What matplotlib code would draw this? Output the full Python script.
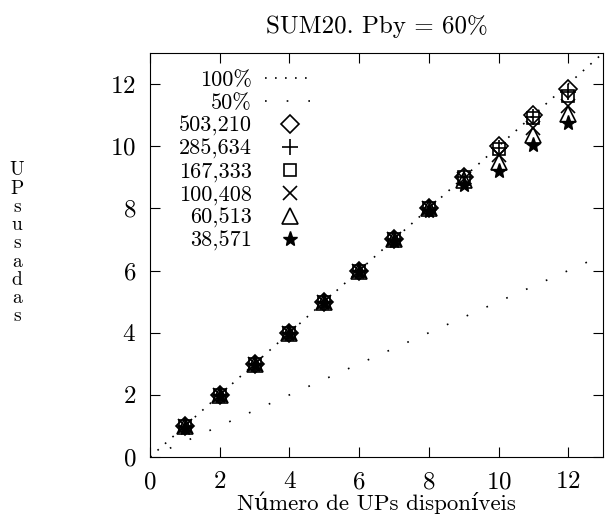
import matplotlib.pyplot as plt

plt.rcParams['font.family'] = ['cmr10', 'DejaVu Serif']
plt.rcParams['mathtext.fontset'] = 'cm'
plt.rcParams['axes.formatter.use_mathtext'] = True

# datos
ups = [1, 2, 3, 4, 5, 6, 7, 8, 9, 10, 11, 12]
s503210 = [1, 2, 3, 4, 5, 6, 7, 8, 9, 10.0, 11.0, 11.85]
s285634 = [1, 2, 3, 4, 5, 6, 7, 8, 9, 9.95, 10.95, 11.75]
s167333 = [1, 2, 3, 4, 5, 6, 7, 8, 9, 9.9, 10.9, 11.6]
s100408 = [1, 2, 3, 4, 5, 6, 7, 8, 8.95, 9.7, 10.6, 11.3]
s60513 = [1, 2, 3, 4, 5, 6, 7, 8, 8.9, 9.5, 10.35, 11.05]
s38571 = [0.95, 1.95, 2.95, 3.95, 4.95, 5.95, 6.95, 7.9, 8.75, 9.2, 10.05, 10.75]
x_ref = [0, 13]
y100 = [0, 13]
y50 = [0, 6.5]

fig = plt.figure(figsize=(6.05, 5.29), dpi=100)
ax = fig.add_axes([0.248, 0.136, 0.749, 0.764])

ax.plot(x_ref, y100, linestyle=(0, (1, 5)), color='black', linewidth=1.2, label='100%')
ax.plot(x_ref, y50, linestyle=(0, (1, 12)), color='black', linewidth=1.2, label='50%')

ax.plot(ups, s503210, 'D', mfc='none', mec='black', ms=9, mew=1.2, label='503,210')
ax.plot(ups, s285634, '+', color='black', ms=12, mew=1.2, label='285,634')
ax.plot(ups, s167333, 's', mfc='none', mec='black', ms=9, mew=1.2, label='167,333')
ax.plot(ups, s100408, 'x', color='black', ms=10, mew=1.2, label='100,408')
ax.plot(ups, s60513, '^', mfc='none', mec='black', ms=12, mew=1.2, label='60,513')
ax.plot(ups, s38571, '*', color='black', ms=11, label='38,571')

ax.set_xlim(0, 13)
ax.set_ylim(0, 13)
ax.set_xticks([0, 2, 4, 6, 8, 10, 12])
ax.set_yticks([0, 2, 4, 6, 8, 10, 12])
ax.tick_params(direction='in', length=7, top=True, right=True, labelsize=18, pad=10)

ax.set_title('SUM20. Pby = 60%', fontsize=18, pad=14)
ax.set_xlabel('Número de UPs disponíveis', fontsize=16.5, labelpad=-1)
fig.text(0.028, 0.54, 'U\nP\ns\nu\ns\na\nd\na\ns', fontsize=14, ha='center', va='center',
         linespacing=1.02)

ax.legend(loc='upper right', bbox_to_anchor=(0.382, 0.978), frameon=False, markerfirst=False,
          fontsize=16, handlelength=2.2, handletextpad=0.6, labelspacing=0.14, borderaxespad=0)

fig.savefig('out.png', dpi=100)
